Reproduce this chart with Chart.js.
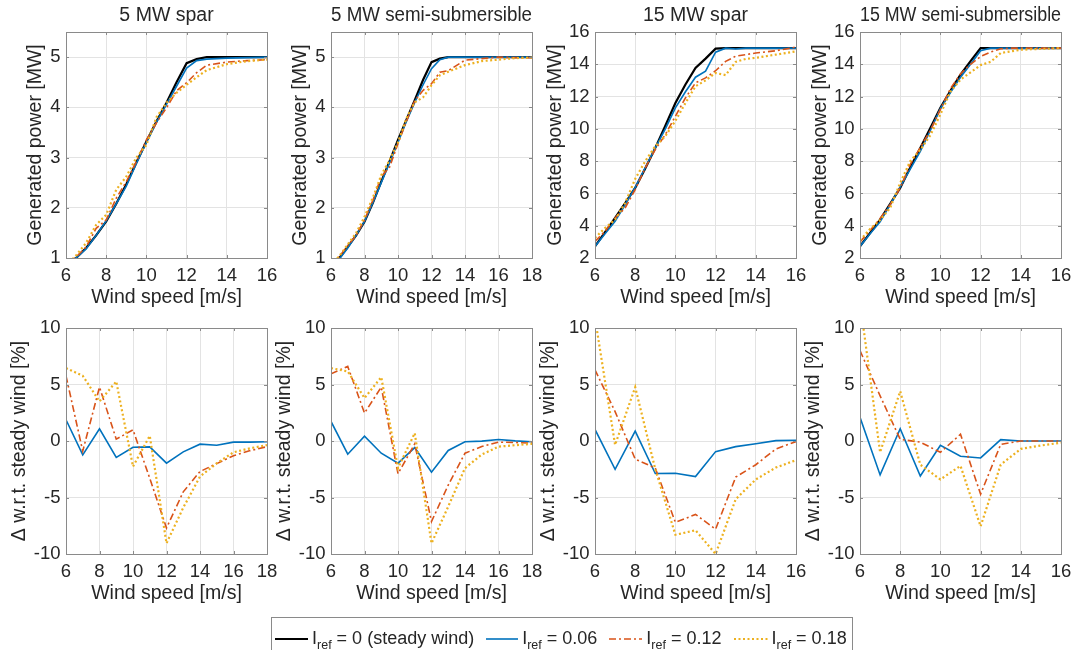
<!DOCTYPE html>
<html>
<head>
<meta charset="utf-8">
<script src="https://cdn.jsdelivr.net/npm/chart.js@4.4.1/dist/chart.umd.min.js"></script>
<style>
  body { margin: 0; width: 1076px; height: 650px; overflow: hidden; background: #fff; position: relative;
         font-family: "Liberation Sans", Arial, sans-serif; color: #262626; }
  canvas { position: absolute; }
  #legend { position: absolute; left: 271px; top: 617px; width: 582px; height: 40px; box-sizing: border-box;
            border: 1px solid #8a8a8a; background: #fff; display: flex; align-items: flex-start;
            padding: 9px 0 0 3px; font-size: 18px; line-height: 22px; white-space: nowrap; }
  #legend .item { display: flex; align-items: flex-start; margin-right: 12px; }
  #legend svg { margin: 8px 4px 0 0; }
  #legend sub { font-size: 12.5px; line-height: 0; vertical-align: -5px; }
</style>
</head>
<body>
<canvas id="c1"></canvas>
<canvas id="c2"></canvas>
<canvas id="c3"></canvas>
<canvas id="c4"></canvas>
<canvas id="c5"></canvas>
<canvas id="c6"></canvas>
<canvas id="c7"></canvas>
<canvas id="c8"></canvas>

<div id="legend">
  <div class="item"><svg width="33" height="8"><line x1="0" y1="4" x2="33" y2="4" stroke="#000" stroke-width="2.2"/></svg><span>I<sub>ref</sub> = 0 (steady wind)</span></div>
  <div class="item"><svg width="32" height="8"><line x1="0" y1="4" x2="32" y2="4" stroke="#0072BD" stroke-width="1.6"/></svg><span>I<sub>ref</sub> = 0.06</span></div>
  <div class="item"><svg width="33" height="8"><line x1="0" y1="4" x2="33" y2="4" stroke="#D95319" stroke-width="1.6" stroke-dasharray="7 3 2 3"/></svg><span>I<sub>ref</sub> = 0.12</span></div>
  <div class="item"><svg width="34" height="8"><line x1="0" y1="4" x2="34" y2="4" stroke="#EDB120" stroke-width="2.2" stroke-dasharray="2 2.5"/></svg><span>I<sub>ref</sub> = 0.18</span></div>
</div>

<script>
// wind speeds [m/s]
const wsPow16 = [6, 6.5, 7, 7.5, 8, 8.5, 9, 9.5, 10, 10.5, 11, 11.5, 12, 12.5, 13, 14, 15, 16];
const wsPow18 = [6, 6.5, 7, 7.5, 8, 8.5, 9, 9.5, 10, 10.5, 11, 11.5, 12, 12.5, 13, 14, 15, 16, 17, 18];
const wsPow15 = [6, 6.5, 7, 7.5, 8, 8.5, 9, 9.5, 10, 10.5, 11, 11.5, 12, 12.5, 13, 13.5, 14, 14.5, 15, 15.5, 16];
const wsInt16 = [6, 7, 8, 9, 10, 11, 12, 13, 14, 15, 16];
const wsInt18 = [6, 7, 8, 9, 10, 11, 12, 13, 14, 15, 16, 17, 18];

// generated power [MW], 5 MW spar
const spar5Steady = [0.82, 1.0, 1.2, 1.45, 1.73, 2.08, 2.47, 2.9, 3.32, 3.72, 4.09, 4.5, 4.88, 4.96, 5.0, 5.0, 5.0, 5.0];
const spar5I06    = [0.86, 1.0, 1.18, 1.45, 1.74, 2.08, 2.43, 2.88, 3.3, 3.7, 4.06, 4.42, 4.78, 4.93, 4.96, 4.98, 4.99, 5.0];
const spar5I12    = [0.85, 1.02, 1.22, 1.59, 1.76, 2.19, 2.52, 2.92, 3.35, 3.69, 3.99, 4.33, 4.49, 4.69, 4.84, 4.9, 4.93, 4.95];
const spar5I18    = [0.85, 1.05, 1.3, 1.66, 1.86, 2.36, 2.62, 3.0, 3.25, 3.8, 4.09, 4.29, 4.45, 4.6, 4.74, 4.86, 4.92, 4.95];

// generated power [MW], 5 MW semi-submersible
const semi5Steady = [0.8, 1.0, 1.22, 1.45, 1.72, 2.1, 2.52, 2.93, 3.35, 3.75, 4.14, 4.55, 4.9, 4.97, 5.0, 5.0, 5.0, 5.0, 5.0, 5.0];
const semi5I06    = [0.82, 0.98, 1.2, 1.45, 1.73, 2.1, 2.5, 2.9, 3.3, 3.72, 4.1, 4.45, 4.77, 4.95, 5.0, 5.0, 5.0, 5.0, 5.0, 5.0];
const semi5I12    = [0.85, 1.03, 1.25, 1.45, 1.76, 2.15, 2.62, 2.81, 3.28, 3.72, 4.13, 4.34, 4.47, 4.7, 4.73, 4.94, 4.97, 5.0, 4.99, 4.99];
const semi5I18    = [0.86, 1.04, 1.27, 1.5, 1.82, 2.2, 2.65, 2.95, 3.3, 3.78, 4.1, 4.2, 4.44, 4.64, 4.71, 4.84, 4.92, 4.95, 4.98, 4.99];

// generated power [MW], 15 MW spar
const spar15Steady = [2.72, 3.6, 4.48, 5.4, 6.34, 7.55, 8.82, 10.2, 11.6, 12.75, 13.77, 14.35, 14.97, 15.0, 15.0, 15.0, 15.0, 15.0, 15.0, 15.0, 15.0];
const spar15I06    = [2.72, 3.5, 4.27, 5.3, 6.38, 7.6, 8.82, 10.0, 11.3, 12.3, 13.2, 13.57, 14.75, 15.0, 14.95, 15.0, 15.0, 15.0, 15.0, 15.0, 15.0];
const spar15I12    = [3.03, 3.65, 4.48, 5.1, 6.24, 7.58, 8.72, 9.65, 10.78, 11.92, 12.85, 13.16, 13.6, 14.18, 14.5, 14.6, 14.7, 14.77, 14.84, 14.95, 15.07];
const spar15I18    = [3.24, 3.86, 4.38, 5.41, 6.9, 8.0, 8.93, 9.55, 10.5, 11.6, 12.64, 13.0, 13.46, 13.33, 14.15, 14.33, 14.4, 14.5, 14.6, 14.7, 14.8];

// generated power [MW], 15 MW semi-submersible
const semi15Steady = [2.72, 3.55, 4.38, 5.35, 6.34, 7.6, 8.82, 10.05, 11.3, 12.35, 13.36, 14.2, 15.0, 15.0, 15.0, 15.0, 15.0, 15.0, 15.0, 15.0, 15.0];
const semi15I06    = [2.72, 3.5, 4.25, 5.3, 6.4, 7.5, 8.6, 9.9, 11.25, 12.25, 13.2, 14.0, 14.84, 15.0, 15.0, 15.0, 15.0, 15.0, 15.0, 15.0, 15.0];
const semi15I12    = [3.0, 3.7, 4.45, 5.3, 6.35, 7.8, 8.85, 9.9, 11.2, 12.5, 13.4, 14.0, 14.48, 14.76, 14.96, 15.0, 15.0, 15.0, 15.0, 15.0, 15.0];
const semi15I18    = [3.1, 3.8, 4.35, 5.1, 6.65, 8.0, 8.7, 9.6, 10.9, 12.3, 13.05, 13.5, 13.95, 14.15, 14.7, 14.8, 14.9, 14.93, 14.95, 14.98, 15.0];

// difference w.r.t. steady wind [%]
const dSpar5I06 = [1.88, -1.23, 1.08, -1.46, -0.55, -0.52, -1.96, -0.96, -0.28, -0.37, -0.1, -0.1, -0.07];
const dSpar5I12 = [5.77, -0.9, 4.77, 0.16, 0.99, -3.3, -7.7, -4.5, -2.7, -2.0, -1.3, -0.85, -0.5];
const dSpar5I18 = [6.45, 5.77, 3.5, 5.27, -2.26, 0.46, -9.05, -5.9, -3.15, -1.97, -1.0, -0.64, -0.37];

const dSemi5I06 = [1.73, -1.17, 0.43, -1.08, -1.96, -0.58, -2.76, -0.84, -0.07, -0.01, 0.13, 0.01, -0.07];
const dSemi5I12 = [5.95, 6.6, 2.47, 4.77, -2.9, -0.25, -7.13, -3.9, -1.08, -0.49, -0.1, -0.13, -0.19];
const dSemi5I18 = [6.45, 6.16, 3.8, 5.65, -2.4, 0.7, -9.05, -5.8, -2.4, -1.2, -0.5, -0.37, -0.25];

const dSpar15I06 = [1.03, -2.5, 0.88, -2.88, -2.85, -3.15, -0.94, -0.5, -0.24, 0.03, 0.06];
const dSpar15I12 = [6.3, 2.6, -1.6, -2.4, -7.2, -6.5, -7.8, -3.2, -2.1, -0.7, -0.05];
const dSpar15I18 = [10.9, -0.35, 4.76, -2.5, -8.3, -7.9, -10.0, -5.15, -3.4, -2.35, -1.7];

const dSemi15I06 = [2.1, -3.0, 1.09, -3.1, -0.38, -1.35, -1.5, 0.12, 0.0, 0.0, 0.0];
const dSemi15I12 = [8.0, 4.0, 0.15, -0.1, -1.0, 0.6, -4.7, -0.3, 0.0, 0.0, 0.0];
const dSemi15I18 = [12.3, -1.0, 4.4, -2.1, -3.4, -2.2, -7.55, -2.1, -0.7, -0.4, -0.15];

// shared look
const FONT = '"Liberation Sans", Arial, sans-serif';
const AX = '#262626';
const GRID = '#e3e3e3';
const BOX = '#8a8a8a';

// steady, 0.06, 0.12, 0.18
const lineStyles = [
  { borderColor: '#000000', borderWidth: 2.2 },
  { borderColor: '#0072BD', borderWidth: 1.6 },
  { borderColor: '#D95319', borderWidth: 1.6, borderDash: [7, 3, 2, 3] },
  { borderColor: '#EDB120', borderWidth: 2.2, borderDash: [2, 2.5] }
];

// plot area sizes and the room around it inside each canvas
const PW = 201, PH = 226, PL = 62, PR = 14, PB = 56;

const panels = [
  { id: 'c1', left: 66,  top: 32,  title: '5 MW spar', xMax: 16, yMin: 1, yMax: 5.5, yStep: 1,
    yLabel: 'Generated power [MW]', yOff: 30, x: wsPow16, series: [spar5Steady, spar5I06, spar5I12, spar5I18] },
  { id: 'c2', left: 331, top: 32,  title: '5 MW semi-submersible', xMax: 18, yMin: 1, yMax: 5.5, yStep: 1,
    yLabel: 'Generated power [MW]', yOff: 30, x: wsPow18, series: [semi5Steady, semi5I06, semi5I12, semi5I18] },
  { id: 'c3', left: 595, top: 32,  title: '15 MW spar', xMax: 16, yMin: 2, yMax: 16, yStep: 2,
    yLabel: 'Generated power [MW]', yOff: 39, x: wsPow15, series: [spar15Steady, spar15I06, spar15I12, spar15I18] },
  { id: 'c4', left: 860, top: 32,  title: '15 MW semi-submersible', xMax: 16, yMin: 2, yMax: 16, yStep: 2,
    yLabel: 'Generated power [MW]', yOff: 39, x: wsPow15, series: [semi15Steady, semi15I06, semi15I12, semi15I18] },
  { id: 'c5', left: 66,  top: 328, title: null, xMax: 18, yMin: -10, yMax: 10, yStep: 5,
    yLabel: '\u0394 w.r.t. steady wind [%]', yOff: 46, x: wsInt18, series: [null, dSpar5I06, dSpar5I12, dSpar5I18] },
  { id: 'c6', left: 331, top: 328, title: null, xMax: 18, yMin: -10, yMax: 10, yStep: 5,
    yLabel: '\u0394 w.r.t. steady wind [%]', yOff: 46, x: wsInt18, series: [null, dSemi5I06, dSemi5I12, dSemi5I18] },
  { id: 'c7', left: 595, top: 328, title: null, xMax: 16, yMin: -10, yMax: 10, yStep: 5,
    yLabel: '\u0394 w.r.t. steady wind [%]', yOff: 46, x: wsInt16, series: [null, dSpar15I06, dSpar15I12, dSpar15I18] },
  { id: 'c8', left: 860, top: 328, title: null, xMax: 16, yMin: -10, yMax: 10, yStep: 5,
    yLabel: '\u0394 w.r.t. steady wind [%]', yOff: 46, x: wsInt16, series: [null, dSemi15I06, dSemi15I12, dSemi15I18] }
];

// box around the axes with small inward tick marks on all four sides
const axesBox = {
  id: 'axesBox',
  afterDatasetsDraw(chart) {
    const { ctx, chartArea: a, scales: { x, y } } = chart;
    ctx.save();
    ctx.strokeStyle = BOX;
    ctx.lineWidth = 1;
    ctx.beginPath();
    x.ticks.forEach(t => {
      const px = Math.round(x.getPixelForValue(t.value)) + 0.5;
      ctx.moveTo(px, a.bottom); ctx.lineTo(px, a.bottom - 3);
      ctx.moveTo(px, a.top); ctx.lineTo(px, a.top + 3);
    });
    y.ticks.forEach(t => {
      const py = Math.round(y.getPixelForValue(t.value)) + 0.5;
      ctx.moveTo(a.left, py); ctx.lineTo(a.left + 3, py);
      ctx.moveTo(a.right, py); ctx.lineTo(a.right - 3, py);
    });
    ctx.stroke();
    ctx.strokeRect(a.left + 0.5, a.top + 0.5, a.right - a.left, a.bottom - a.top);
    ctx.restore();
  }
};

let makePanel = (p) => {
  const padTop = p.title ? 32 : 16;
  const canvas = document.getElementById(p.id);
  canvas.width = PL + PW + PR;
  canvas.height = padTop + PH + PB;
  canvas.style.left = (p.left - PL) + 'px';
  canvas.style.top = (p.top - padTop) + 'px';

  // later series drawn on top
  const datasets = [];
  p.series.forEach((s, k) => {
    if (!s) return;
    datasets.push(Object.assign({
      data: p.x.map((v, i) => ({ x: v, y: s[i] })),
      pointRadius: 0,
      tension: 0,
      fill: false,
      clip: 0,
      order: 4 - k
    }, lineStyles[k]));
  });

  new Chart(canvas.getContext('2d'), {
    type: 'line',
    data: { datasets: datasets },
    options: {
      responsive: false,
      animation: false,
      events: [],
      layout: { padding: { top: p.title ? 0 : padTop, right: PR, left: 0, bottom: 0 }, autoPadding: false },
      plugins: {
        legend: { display: false },
        tooltip: { enabled: false },
        title: {
          display: !!p.title,
          text: p.title || '',
          fullSize: false,
          color: AX,
          font: { family: FONT, size: 19.5, weight: 'normal', lineHeight: 1.2 },
          padding: { top: 4.3, bottom: 4.3 }
        }
      },
      scales: {
        x: {
          type: 'linear',
          min: 6,
          max: p.xMax,
          afterFit: s => { s.height = PB; s.paddingLeft = 0; s.paddingRight = 0; },
          ticks: {
            stepSize: 2, padding: 7, color: AX, maxRotation: 0, autoSkip: false,
            font: { family: FONT, size: 18.5 },
            callback: v => String(v)
          },
          grid: { color: GRID, drawTicks: false },
          border: { display: false },
          title: {
            display: true, text: 'Wind speed [m/s]', color: AX,
            font: { family: FONT, size: 19.5, lineHeight: 1.2 },
            padding: { top: 0, bottom: 4.3 }
          }
        },
        y: {
          type: 'linear',
          min: p.yMin,
          max: p.yMax,
          afterFit: s => { s.width = PL; s.paddingTop = 0; s.paddingBottom = 0; },
          ticks: {
            stepSize: p.yStep, padding: 5.5, color: AX, includeBounds: false, autoSkip: false,
            font: { family: FONT, size: 18.5 },
            callback: v => String(v)
          },
          grid: { color: GRID, drawTicks: false },
          border: { display: false },
          title: {
            display: true, text: p.yLabel, color: AX,
            font: { family: FONT, size: 19.5, lineHeight: 1.2 },
            padding: { top: PL - p.yOff - 11.7, bottom: 0 }
          }
        }
      }
    },
    plugins: [axesBox]
  });
};

panels.forEach(makePanel);
</script>
</body>
</html>
